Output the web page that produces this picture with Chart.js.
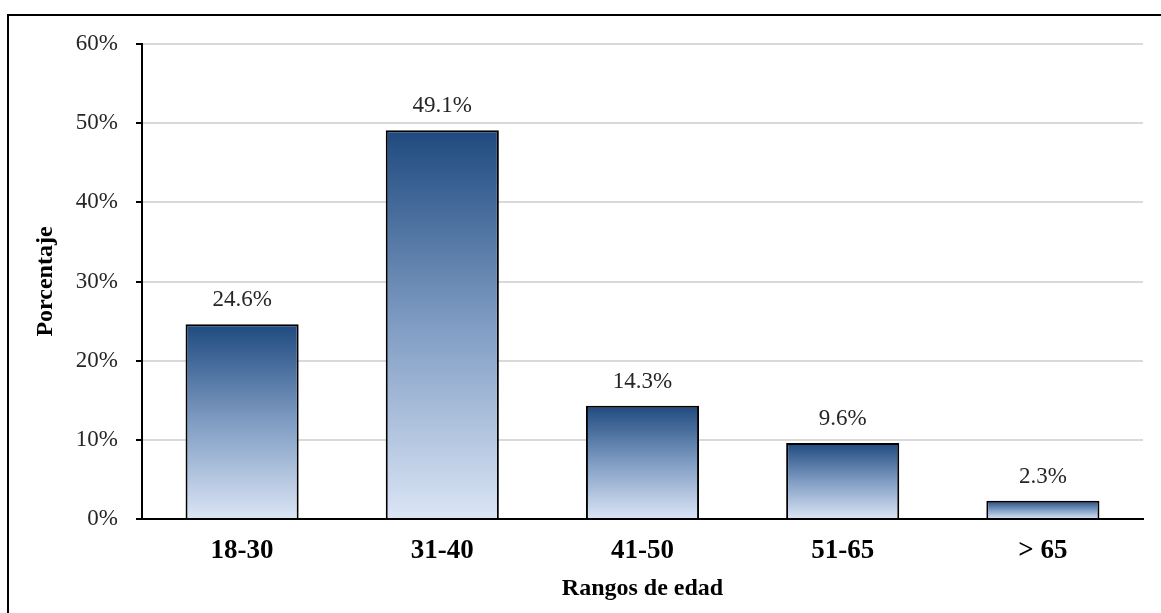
<!DOCTYPE html>
<html>
<head>
<meta charset="utf-8">
<script src="https://cdn.jsdelivr.net/npm/chart.js@4/dist/chart.umd.min.js"></script>
<style>
  html, body { margin: 0; padding: 0; background: #fff; overflow: hidden; }
  #wrap { position: relative; width: 1161px; height: 613px; }
  #frame { position: absolute; left: 7px; top: 14px; width: 2000px; height: 2000px; border: 2px solid #000; }
  #ageChart { position: absolute; left: 0; top: 0; }
</style>
</head>
<body>
<div id="wrap">
  <div id="frame"></div>
  <canvas id="ageChart" width="1161" height="613"></canvas>
</div>
<script>
// Distribución por rangos de edad
const ageRanges = ['18-30', '31-40', '41-50', '51-65', '> 65'];
const percentages = [24.6, 49.1, 14.3, 9.6, 2.3];
const yTickStep = 10;
const yMax = 60;

const serif = "'Liberation Serif', 'Times New Roman', serif";

// gradient per bar, dark on top, light at the base
function barGradient(context) {
    const chart = context.chart;
    const { ctx, chartArea, scales } = chart;
    if (!chartArea) return '#7f9cc0';
    const v = context.raw;
    const top = scales.y.getPixelForValue(v);
    const bottom = scales.y.getPixelForValue(0);
    const g = ctx.createLinearGradient(0, top, 0, bottom);
    g.addColorStop(0, '#1f4a7f');
    g.addColorStop(0.5, '#7f9cc3');
    g.addColorStop(1, '#dbe5f5');
    return g;
}

const valueLabels = {
    id: 'valueLabels',
    afterDatasetsDraw(chart) {
        const ctx = chart.ctx;
        const meta = chart.getDatasetMeta(0);
        ctx.save();
        ctx.font = '23px ' + serif;
        ctx.fillStyle = '#262626';
        ctx.textAlign = 'center';
        ctx.textBaseline = 'middle';
        meta.data.forEach(function(bar, i) {
            ctx.fillText(percentages[i].toFixed(1) + '%', bar.x, bar.y - 24);
        });
        ctx.restore();
    }
};

const ctx = document.getElementById('ageChart').getContext('2d');
const ageChart = new Chart(ctx, {
    type: 'bar',
    data: {
        labels: ageRanges,
        datasets: [{
            data: percentages,
            backgroundColor: barGradient,
            borderColor: '#000',
            borderWidth: 2,
            borderSkipped: 'start',
            barPercentage: 0.565,
            categoryPercentage: 1
        }]
    },
    options: {
        responsive: false,
        animation: false,
        layout: { padding: { top: 44, right: 18, bottom: 0, left: 0 } },
        plugins: {
            legend: { display: false },
            tooltip: { enabled: false }
        },
        scales: {
            x: {
                z: 1,
                afterFit: function(scale) { scale.height = 94; },
                grid: { display: false },
                border: { display: true, color: '#000', width: 2 },
                ticks: {
                    color: '#000',
                    padding: 8,
                    font: { family: serif, size: 27, weight: 'bold' }
                },
                title: {
                    display: true,
                    text: 'Rangos de edad',
                    color: '#000',
                    font: { family: serif, size: 24, weight: 'bold' },
                    padding: { top: 0, bottom: 10 }
                }
            },
            y: {
                min: 0,
                max: yMax,
                afterFit: function(scale) { scale.width = 142; },
                grid: {
                    color: '#d9d9d9',
                    lineWidth: 2,
                    tickColor: '#000',
                    tickLength: 6,
                    tickWidth: 2
                },
                border: { display: true, color: '#000', width: 2 },
                ticks: {
                    stepSize: yTickStep,
                    color: '#262626',
                    padding: 18,
                    font: { family: serif, size: 23 },
                    callback: function(value) { return value + '%'; }
                },
                title: {
                    display: true,
                    text: 'Porcentaje',
                    color: '#000',
                    font: { family: serif, size: 24, weight: 'bold' },
                    padding: { top: 31, bottom: 0 }
                }
            }
        }
    },
    plugins: [valueLabels]
});
</script>
</body>
</html>
